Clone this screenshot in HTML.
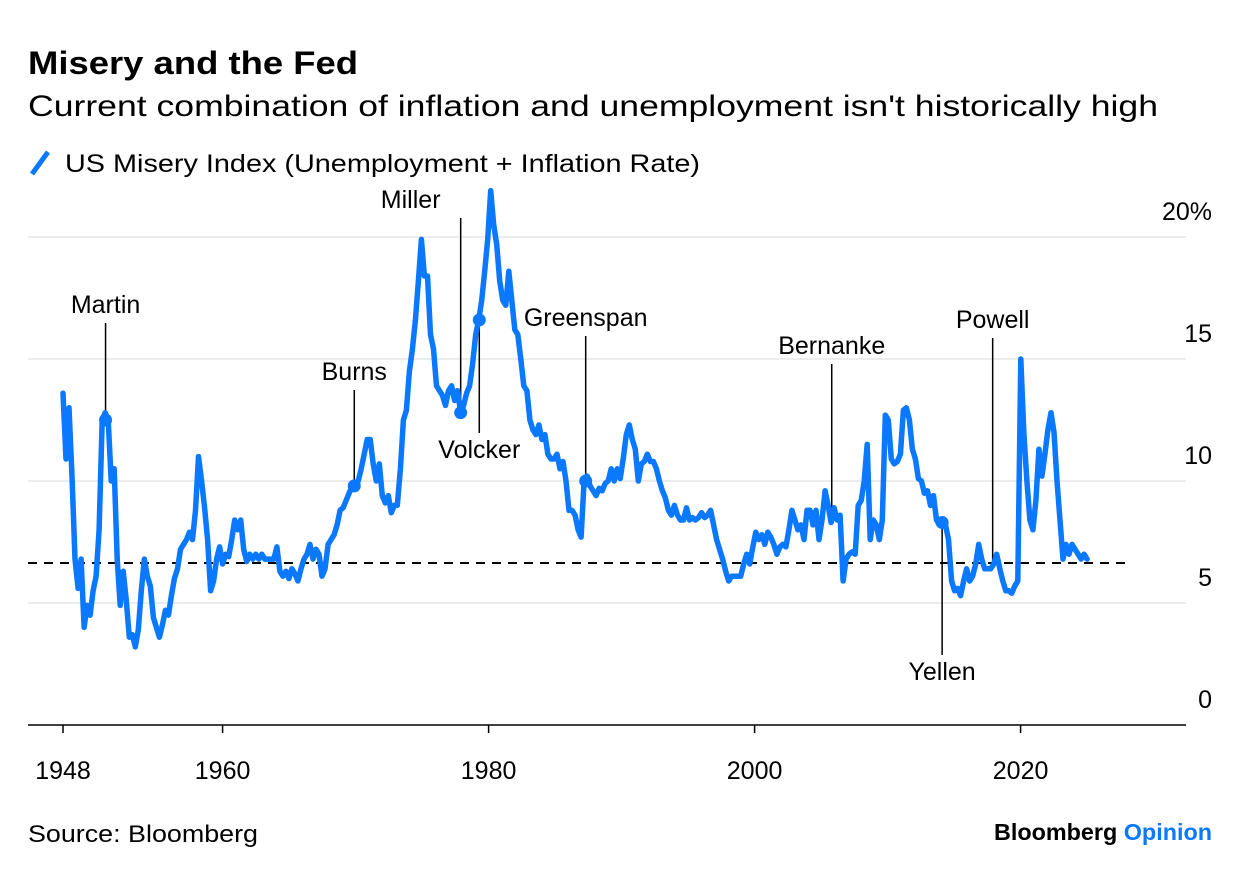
<!DOCTYPE html>
<html><head><meta charset="utf-8"><style>
body{margin:0;background:#fff;width:1240px;height:876px;overflow:hidden;font-family:"Liberation Sans",Arial,sans-serif;}
svg text{font-family:"Liberation Sans",Arial,sans-serif;}
</style></head><body>
<svg id="chart" width="1240" height="876" xmlns="http://www.w3.org/2000/svg">
<text x="28" y="74" font-size="32" font-weight="bold" fill="#000" textLength="330" lengthAdjust="spacingAndGlyphs">Misery and the Fed</text>
<text x="28" y="116" font-size="30" fill="#000" textLength="1130" lengthAdjust="spacingAndGlyphs">Current combination of inflation and unemployment isn't historically high</text>
<g>
<line x1="32" y1="174" x2="48" y2="152" stroke="#0a78ff" stroke-width="5"/>
<text x="65" y="172" font-size="25" fill="#000" textLength="635" lengthAdjust="spacingAndGlyphs">US Misery Index (Unemployment + Inflation Rate)</text>
</g>
<g id="grid"></g><g id="annos"></g><g id="series"></g>
<text x="28" y="842" font-size="24" fill="#000" textLength="230" lengthAdjust="spacingAndGlyphs">Source: Bloomberg</text>
<text x="1212" y="840" font-size="23" font-weight="bold" text-anchor="end" fill="#000" textLength="218" lengthAdjust="spacingAndGlyphs">Bloomberg <tspan fill="#0a78ff">Opinion</tspan></text>
</svg>
<script>
const yTicks=[0,5,10,15,20];
const yTickLabels=["0","5","10","15","20%"];
const xTicks=[1948,1960,1980,2000,2020];
const startYear=1948.0, endYear=2025.0;
const refValue=6.64;
const values=[13.6,10.9,13.0,10.2,6.8,5.6,6.8,4.0,4.9,4.5,5.5,6.1,8.0,12.5,12.8,12.5,10.0,10.5,6.8,4.9,6.3,5.1,3.6,3.7,3.2,3.9,5.5,6.8,6.1,5.7,4.4,4.0,3.6,4.1,4.7,4.5,5.3,6.0,6.4,7.2,7.4,7.6,7.9,7.6,8.8,11.0,10.0,8.9,7.6,5.5,5.9,6.8,7.3,6.6,7.0,6.9,7.6,8.4,8.0,8.4,7.2,6.7,7.0,6.8,7.0,6.8,7.0,6.8,6.8,6.8,6.8,7.3,6.3,6.1,6.3,6.0,6.4,6.2,5.9,6.4,6.8,7.0,7.4,6.8,7.2,7.0,6.1,6.4,7.4,7.6,7.8,8.2,8.8,8.9,9.2,9.5,9.8,9.8,10.0,10.5,11.1,11.7,11.7,10.7,10.0,10.7,9.4,9.1,9.4,8.7,9.0,9.0,10.5,12.5,12.9,14.5,15.4,16.6,18.2,19.9,18.4,18.4,16.0,15.4,13.9,13.7,13.5,13.1,13.7,13.9,13.3,13.7,12.8,13.1,13.6,13.9,14.8,16.0,16.6,17.4,18.6,19.9,21.9,20.5,19.7,18.2,17.4,17.2,18.6,17.4,16.2,16.0,15.0,13.9,13.7,12.5,12.1,11.9,12.3,11.7,11.9,11.1,10.9,10.9,11.1,10.5,10.8,10.0,8.8,8.8,8.6,8.0,7.7,10.0,10.2,9.8,9.6,9.4,9.7,9.6,9.9,10.0,10.5,10.0,10.5,10.1,10.9,11.9,12.3,11.7,11.3,10.0,10.7,10.8,11.1,10.8,10.8,10.5,10.0,9.6,9.3,8.8,8.6,9.0,8.6,8.4,8.4,8.9,8.4,8.5,8.4,8.5,8.7,8.5,8.6,8.8,8.2,7.6,7.2,6.8,6.3,5.9,6.1,6.1,6.1,6.1,6.6,7.0,6.6,7.3,7.9,7.6,7.8,7.4,7.9,7.7,7.4,7.0,7.3,7.4,7.3,8.0,8.8,8.4,8.0,8.2,7.6,8.8,8.8,8.2,8.8,7.6,8.4,9.6,9.0,8.3,8.9,8.4,8.6,5.9,6.8,7.0,7.1,7.0,9.0,9.2,10.0,11.5,7.6,8.4,8.2,7.6,8.4,12.7,12.5,10.9,10.7,10.8,11.1,12.9,13.0,12.5,11.3,10.9,10.1,10.0,9.5,9.6,9.0,9.4,8.4,8.2,8.4,8.2,7.6,5.9,5.5,5.6,5.3,5.9,6.4,5.9,6.1,6.6,7.4,6.8,6.4,6.4,6.4,6.6,7.0,6.4,5.9,5.5,5.5,5.4,5.7,5.9,15.0,12.0,10.0,8.4,8.0,9.2,11.3,10.2,11.1,12.1,12.8,12.0,10.0,8.4,6.8,7.4,7.0,7.4,7.2,7.0,6.8,7.0,6.8];
const annoNames=["Martin","Burns","Miller","Volcker","Greenspan","Bernanke","Yellen","Powell"];
const annoYears=[1951.2,1969.9,1977.9,1979.3,1987.3,2005.8,2014.1,2017.9];
const annoValues=[12.5,9.8,12.8,16.6,10.0,8.9,8.3,6.6];
const annoDot=[true,true,true,true,true,false,true,false];

const NS="http://www.w3.org/2000/svg";
const X0=63,PXY=13.3,Y0=725,PXV=24.4;
const xs=y=>X0+(y-1948)*PXY;
const ys=v=>Y0-v*PXV;
function mk(tag,attrs,parent,txt){const e=document.createElementNS(NS,tag);for(const k in attrs)e.setAttribute(k,attrs[k]);if(txt!==undefined)e.textContent=txt;parent.appendChild(e);return e;}
const grid=document.getElementById('grid');
yTicks.forEach((t,i)=>{
  if(t>0){const g=mk('line',{x1:28,x2:1186,y1:ys(t),y2:ys(t),stroke:'#ececec','stroke-width':2},grid);
  
  }
  const l=mk('text',{x:1212,y:ys(t)-17,'font-size':25,'text-anchor':'end',fill:'#000'},grid,yTickLabels[i]);
  
  
});
const ax=mk('line',{x1:28,x2:1186,y1:Y0,y2:Y0,stroke:'#000','stroke-width':1.5},grid);


xTicks.forEach(t=>{
  const tk=mk('line',{x1:xs(t),x2:xs(t),y1:Y0,y2:Y0+8,stroke:'#000','stroke-width':1.5},grid);
  
  
  const l=mk('text',{x:xs(t),y:779,'font-size':25,'text-anchor':'middle',fill:'#000'},grid,String(t));
  
  
});
const ref=mk('line',{x1:28,x2:1125,y1:ys(refValue),y2:ys(refValue),stroke:'#000','stroke-width':2,'stroke-dasharray':'9,7'},grid);



const series=document.getElementById('series');
const n=values.length;
const pts=values.map((v,i)=>{const yr=startYear+(endYear-startYear)*i/(n-1);return xs(yr).toFixed(1)+','+ys(v).toFixed(1);});
const line=mk('polyline',{points:pts.join(' '),fill:'none',stroke:'#0a78ff','stroke-width':5.5,'stroke-linejoin':'round','stroke-linecap':'round'},series);



const annos=document.getElementById('annos');
const labelY=[313,380,208,458,326,354,680,328];
const labelDx=[0,0,-50,0,0,0,0,0];
const below=[false,false,false,true,false,false,true,false];
annoNames.forEach((nm,i)=>{
  const x=xs(annoYears[i]), y=ys(annoValues[i]);
  let y1,y2;
  if(below[i]){y1=y;y2=labelY[i]-25;} else {y1=labelY[i]+10;y2=y;}
  const l=mk('line',{x1:x,x2:x,y1:y1,y2:y2,stroke:'#000','stroke-width':1.5},annos);
  
  
  const t=mk('text',{x:x+labelDx[i],y:labelY[i],'font-size':25,'text-anchor':'middle',fill:'#000'},annos,nm);
  
  
});
annoNames.forEach((nm,i)=>{
  if(!annoDot[i])return;
  const c=mk('circle',{cx:xs(annoYears[i]),cy:ys(annoValues[i]),r:6.5,fill:'#0a78ff'},series);
  
  
});
</script>
</body></html>
